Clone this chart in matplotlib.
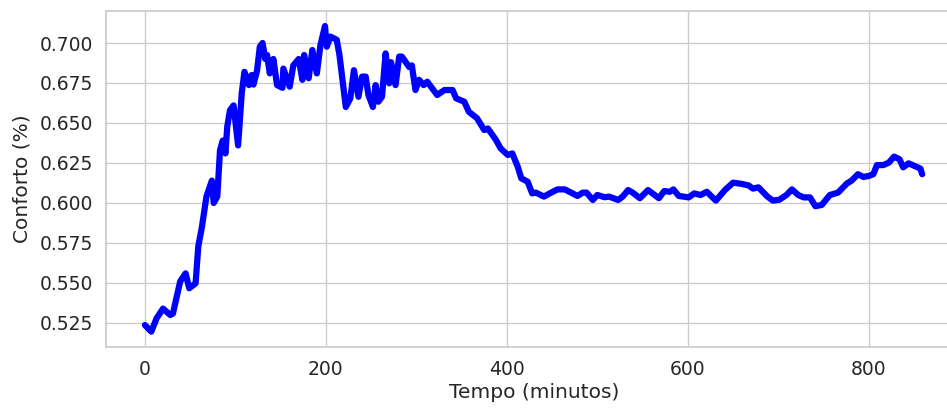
import matplotlib
matplotlib.use("Agg")
import matplotlib.pyplot as plt
import seaborn as sns

# pontos (tempo em minutos, conforto)
tempo = [0, 7, 13, 20, 28, 31, 39, 45, 49, 56, 59, 63, 68, 74, 76, 80, 83, 86, 89, 91,
         94, 98, 103, 107, 110, 115, 118, 120, 124, 127, 130, 133, 135, 138, 142, 146,
         152, 153, 160, 164, 170, 174, 176, 181, 185, 190, 194, 199, 201, 205, 212, 215,
         222, 227, 231, 236, 240, 244, 247, 252, 255, 258, 262, 266, 270, 272, 277, 281,
         284, 292, 295, 299, 303, 308, 312, 323, 331, 340, 344, 353, 358, 367, 375, 379,
         388, 393, 401, 406, 412, 416, 423, 428, 432, 441, 449, 456, 464, 471, 478, 484,
         488, 495, 500, 508, 513, 523, 528, 534, 539, 547, 556, 561, 568, 574, 580, 584,
         590, 601, 607, 614, 621, 631, 641, 650, 659, 667, 672, 678, 688, 694, 701, 709,
         715, 722, 728, 735, 741, 748, 757, 766, 776, 781, 788, 794, 800, 805, 809, 816,
         822, 828, 834, 838, 844, 851, 857, 859]
conforto = [0.5237, 0.5196, 0.528, 0.534, 0.530, 0.531, 0.551, 0.556, 0.5467, 0.5498,
            0.573, 0.585, 0.604, 0.614, 0.600, 0.604, 0.633, 0.639, 0.631, 0.6477,
            0.658, 0.661, 0.636, 0.6686, 0.682, 0.6737, 0.680, 0.674, 0.683, 0.6977,
            0.700, 0.690, 0.6925, 0.681, 0.690, 0.6737, 0.672, 0.684, 0.6727, 0.686,
            0.690, 0.677, 0.6925, 0.678, 0.6956, 0.681, 0.6987, 0.7106, 0.6977, 0.704,
            0.702, 0.6925, 0.660, 0.6654, 0.683, 0.6664, 0.679, 0.679, 0.6675, 0.660,
            0.6737, 0.6633, 0.6664, 0.6935, 0.6748, 0.688, 0.6737, 0.6915, 0.6915, 0.685,
            0.686, 0.6706, 0.677, 0.6737, 0.6758, 0.6675, 0.6706, 0.6706, 0.6654, 0.6633,
            0.657, 0.653, 0.6456, 0.6466, 0.6394, 0.6342, 0.630, 0.631, 0.6227, 0.6154,
            0.6133, 0.606, 0.6065, 0.604, 0.6065, 0.6085, 0.6085, 0.6065, 0.6044, 0.6065,
            0.6065, 0.6019, 0.605, 0.6036, 0.604, 0.6019, 0.604, 0.6081, 0.6065, 0.603,
            0.6081, 0.606, 0.603, 0.6075, 0.607, 0.6085, 0.6044, 0.6035, 0.606, 0.605,
            0.607, 0.6015, 0.6081, 0.6127, 0.612, 0.611, 0.609, 0.6098, 0.604, 0.6015,
            0.602, 0.605, 0.6085, 0.605, 0.6035, 0.6035, 0.598, 0.5988, 0.605, 0.6065,
            0.6123, 0.614, 0.618, 0.6163, 0.6169, 0.618, 0.6237, 0.6237, 0.6252, 0.629,
            0.6273, 0.6223, 0.6248, 0.623, 0.6215, 0.618]

sns.set_theme(style="whitegrid")

fig = plt.figure(figsize=(9.47, 4.09), dpi=100)
ax = fig.add_axes([106 / 947, 62 / 409, 856 / 947, 336 / 409])
ax.plot(tempo, conforto, color="blue", linewidth=4.5,
        solid_capstyle="round", solid_joinstyle="round")
ax.set_xlim(-43, 903)
ax.set_ylim(0.510, 0.720)
ax.set_xticks([0, 200, 400, 600, 800])
ax.set_yticks([0.525, 0.55, 0.575, 0.6, 0.625, 0.65, 0.675, 0.7])
ax.yaxis.set_major_formatter(matplotlib.ticker.FormatStrFormatter("%.3f"))
ax.set_xlabel("Tempo (minutos)", fontsize=14.5, labelpad=3)
ax.set_ylabel("Conforto (%)", fontsize=14.5, labelpad=6)
ax.tick_params(labelsize=13.5)

fig.savefig("out.png", dpi=100)
